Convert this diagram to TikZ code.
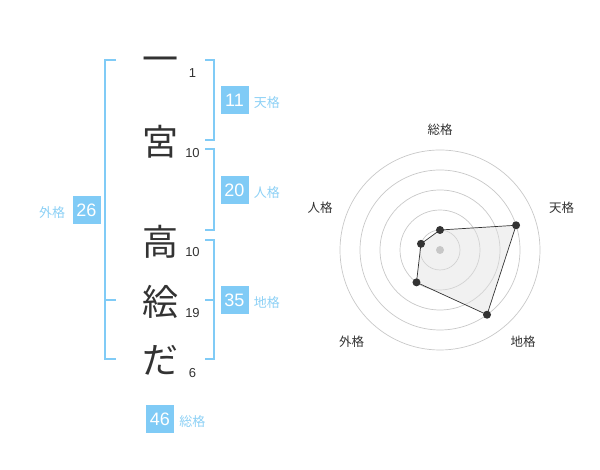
\documentclass[tikz,border=0pt]{standalone}
\usepackage{fontspec}
\setmainfont{Liberation Sans}
\newfontfamily\jpfont{Noto Sans CJK JP}
\usetikzlibrary{positioning}
\definecolor{KakuColor}{HTML}{80CBF6}
\definecolor{KakuTextColor}{HTML}{8CD0F5}
\definecolor{CharColor}{HTML}{333333}
\definecolor{RingColor}{HTML}{C8C8C8}
\definecolor{ChartFillColor}{HTML}{E0E0E0}
\tikzstyle{name-char}=[text=CharColor,
                       inner sep=0pt,
                       font=\jpfont\fontsize{36}{36}\selectfont,
                      ]
\tikzstyle{stroke-count}=[text=CharColor,
                          inner sep=0pt,
                          font=\fontsize{13}{13}\selectfont,
                         ]
\tikzstyle{kaku-box}=[rectangle,
                      fill=KakuColor,
                      text=white,
                      inner sep=0pt,
                      minimum width=28pt,
                      minimum height=28pt,
                      font=\fontsize{18}{18}\selectfont,
                     ]
\tikzstyle{kaku-label}=[text=KakuTextColor,
                        inner sep=0pt,
                        font=\jpfont\fontsize{13}{13}\selectfont,
                       ]
\tikzstyle{kaku-bracket}=[draw=KakuColor, line width=2pt]
\tikzstyle{chart-label}=[text=CharColor,
                         inner sep=0pt,
                         font=\jpfont\fontsize{12.5}{12.5}\selectfont,
                        ]
\tikzstyle{chart-point}=[circle, fill=CharColor, inner sep=0pt, minimum size=8pt]
\begin{document}
\begin{tikzpicture}[x=1pt, y=1pt]
\useasboundingbox (0,0) rectangle (600,470);

\node at (160, 405) (name_char1) [name-char] {一};
\node at (160, 328) (name_char2) [name-char] {宮};
\node at (160, 228) (name_char3) [name-char] {高};
\node at (160, 168) (name_char4) [name-char] {絵};
\node at (160, 110) (name_char5) [name-char] {だ};

\node at (192.5, 397) (stroke1) [stroke-count] {1};
\node at (192.5, 317) (stroke2) [stroke-count] {10};
\node at (192.5, 218) (stroke3) [stroke-count] {10};
\node at (192.5, 157) (stroke4) [stroke-count] {19};
\node at (192.5,  97) (stroke5) [stroke-count] {6};

\draw[kaku-bracket] (116, 410) -- (105, 410) -- (105, 111) -- (116, 111);
\draw[kaku-bracket] (105, 170) -- (116, 170);
\draw[kaku-bracket] (205, 410) -- (214, 410) -- (214, 330) -- (205, 330);
\draw[kaku-bracket] (205, 320.5) -- (214, 320.5) -- (214, 240) -- (205, 240);
\draw[kaku-bracket] (205, 230) -- (214, 230) -- (214, 110.5) -- (205, 110.5);
\draw[kaku-bracket] (205, 170) -- (214, 170);

\node at (86.5, 260) (gaikaku) [kaku-box] {26};
\node at (234.5, 370) (tenkaku) [kaku-box] {11};
\node at (234.5, 280) (jinkaku) [kaku-box] {20};
\node at (234.5, 170) (chikaku) [kaku-box] {35};
\node at (160, 51) (soukaku) [kaku-box] {46};

\node (gaikaku_label) [kaku-label, left=7pt of gaikaku, yshift=-3pt] {外格};
\node (tenkaku_label) [kaku-label, right=5pt of tenkaku, yshift=-3pt] {天格};
\node (jinkaku_label) [kaku-label, right=5pt of jinkaku, yshift=-3pt] {人格};
\node (chikaku_label) [kaku-label, right=5pt of chikaku, yshift=-3pt] {地格};
\node (soukaku_label) [kaku-label, right=5pt of soukaku, yshift=-3pt] {総格};

\coordinate (chart_center) at (440, 220);
\foreach \r in {20,40,60,80,100}
  \draw[RingColor, line width=0.7pt] (chart_center) circle (\r pt);

\node at (440, 340) (chart_sou) [chart-label] {総格};
\node at (561.7, 262) (chart_ten) [chart-label] {天格};
\node at (523, 128) (chart_chi) [chart-label] {地格};
\node at (351.7, 128) (chart_gai) [chart-label] {外格};
\node at (320, 262) (chart_jin) [chart-label] {人格};

\coordinate (p_sou) at ([shift={(90:20pt)}]chart_center);
\coordinate (p_ten) at ([shift={(18:80pt)}]chart_center);
\coordinate (p_chi) at ([shift={(-54:80pt)}]chart_center);
\coordinate (p_gai) at ([shift={(234:40pt)}]chart_center);
\coordinate (p_jin) at ([shift={(162:20pt)}]chart_center);

\draw[fill=ChartFillColor, fill opacity=0.45, draw=CharColor, line width=0.7pt]
  (p_sou) -- (p_ten) -- (p_chi) -- (p_gai) -- (p_jin) -- cycle;

\node at (chart_center) (center_dot) [circle, fill=black!22, inner sep=0pt, minimum size=8pt] {};
\node at (p_sou) (point_sou) [chart-point] {};
\node at (p_ten) (point_ten) [chart-point] {};
\node at (p_chi) (point_chi) [chart-point] {};
\node at (p_gai) (point_gai) [chart-point] {};
\node at (p_jin) (point_jin) [chart-point] {};
\end{tikzpicture}
\end{document}
